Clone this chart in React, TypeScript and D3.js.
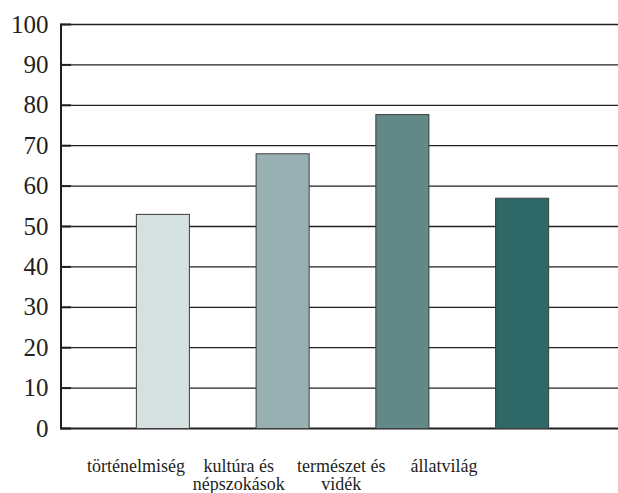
import React from "react";
import * as d3 from "d3";

const categories: string[][] = [
  ["történelmiség"],
  ["kultúra és", "népszokások"],
  ["természet és", "vidék"],
  ["állatvilág"],
];
const values: number[] = [53, 68, 77.7, 57];
const colors: string[] = ["#d5e0e0", "#98b0b1", "#638888", "#2e6867"];
const yTicks: number[] = [0, 10, 20, 30, 40, 50, 60, 70, 80, 90, 100];

const axisX = 61;
const plotRight = 618;
const yTop = 24.5;
const yBottom = 428.5;

export default function App() {
  const ids = categories.map((_, i) => String(i));
  const y = d3.scaleLinear().domain([0, 100]).range([yBottom, yTop]);
  const x = d3
    .scaleBand<string>()
    .domain(ids)
    .range([103, 582])
    .paddingInner(0.557)
    .paddingOuter(0.2785);
  const lx = d3.scalePoint<string>().domain(ids).range([136, 444]);

  return (
    <svg width={618} height={493} style={{ position: "absolute", left: 0, top: 0 }}>
      <style>{`svg text, svg tspan { font-family: "Liberation Serif", "Times New Roman", serif !important; }`}</style>
      {yTicks.map((t) => (
        <line
          key={"g" + t}
          x1={axisX}
          x2={plotRight}
          y1={y(t)}
          y2={y(t)}
          stroke="#231f20"
          strokeWidth={t === 0 ? 2 : 1.3}
        />
      ))}
      {yTicks.map((t) => (
        <line
          key={"k" + t}
          x1={axisX}
          x2={axisX + 10}
          y1={y(t)}
          y2={y(t)}
          stroke="#231f20"
          strokeWidth={2}
        />
      ))}
      <line x1={axisX} x2={axisX} y1={yTop - 1} y2={yBottom + 1} stroke="#231f20" strokeWidth={2} />
      {values.map((v, i) => (
        <rect
          key={"b" + i}
          x={x(String(i))}
          y={y(v)}
          width={x.bandwidth()}
          height={yBottom - y(v)}
          fill={colors[i]}
          stroke="#3d3d3d"
          strokeWidth={1}
        />
      ))}
      {yTicks.map((t) => (
        <text
          key={"t" + t}
          x={48.5}
          y={y(t) + 8}
          fontSize={25}
          textAnchor="end"
          fill="#231f20"
          fontFamily="Liberation Serif"
        >
          {String(t)}
        </text>
      ))}
      {categories.map((lines, i) =>
        lines.map((ln, j) => (
          <text
            key={"c" + i + "_" + j}
            x={lx(String(i))}
            y={472 + j * 18}
            fontSize={18}
            textAnchor="middle"
            fill="#231f20"
            fontFamily="Liberation Serif"
          >
            {ln}
          </text>
        ))
      )}
    </svg>
  );
}
